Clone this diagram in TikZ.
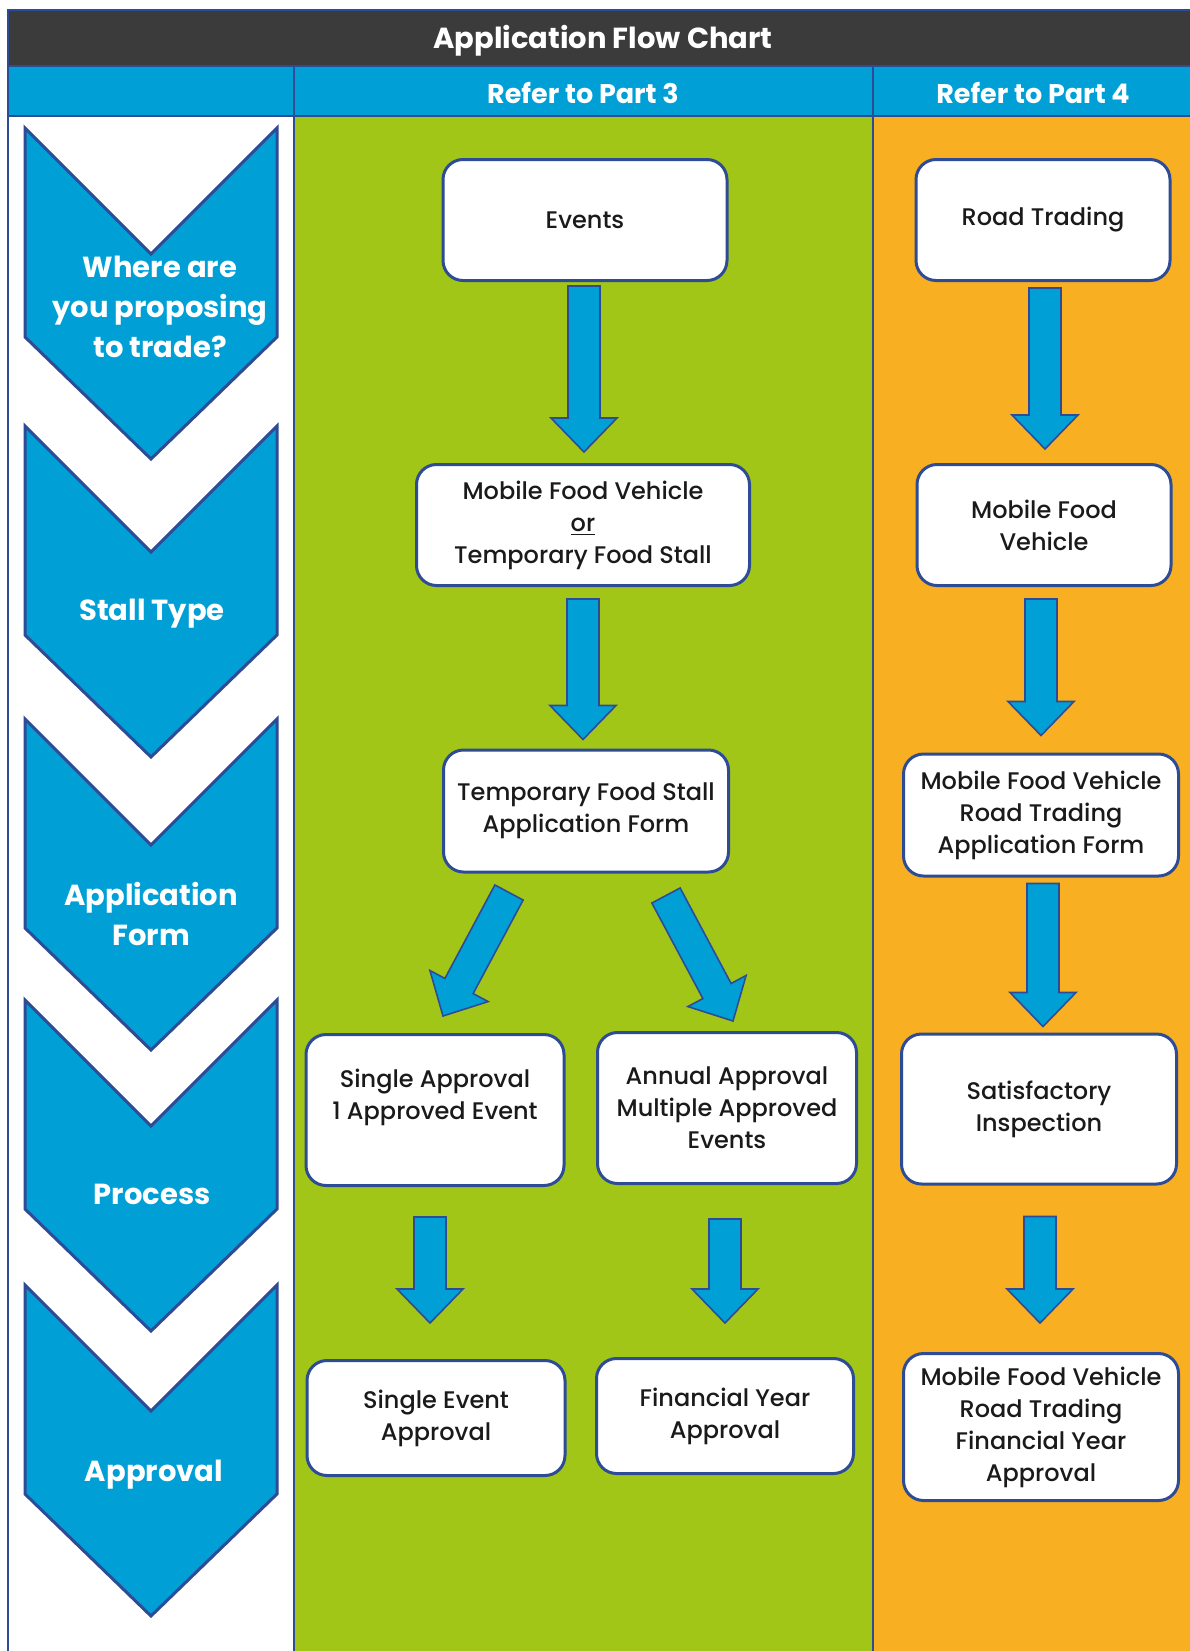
\documentclass[tikz,border=0pt]{standalone}
\usepackage{fontspec}
\setmainfont{Poppins}
\newfontfamily\stagefont{Poppins Medium}
\usetikzlibrary{calc}
\definecolor{hdrdark}{HTML}{3B3B3B}
\definecolor{chartblue}{HTML}{00A0D6}
\definecolor{linkblue}{HTML}{2E4C96}
\definecolor{partgreen}{HTML}{A2C617}
\definecolor{partorange}{HTML}{F8AF22}
\definecolor{boxtext}{HTML}{1A1A1A}
\tikzset{
  stage/.style={rounded corners=10pt, draw=linkblue, line width=1.5pt, fill=white, align=center,
    text=boxtext, font=\stagefont\fontsize{12}{16}\selectfont, inner sep=0pt},
  boxsize/.style 2 args={minimum width=#1*0.5pt, minimum height=#2*0.5pt},
  chevron/.style={fill=chartblue, draw=linkblue, line width=1.5pt, line join=miter},
  steplabel/.style={text=white, align=center, font=\bfseries\fontsize{14.5}{20}\selectfont},
  headtext/.style={text=white, font=\bfseries\fontsize{13.5}{16}\selectfont},
  flowarrow/.style={fill=chartblue, draw=linkblue, line width=0.8pt, line join=miter},
  rule/.style={draw=linkblue, line width=1.2pt}
}
\newcommand\blockarrow[2]{%
  \coordinate (ba-a) at ($#1$);
  \coordinate (ba-b) at ($#2$);
  \coordinate (ba-h) at ($(ba-b)!17pt!(ba-a)$);
  \draw[flowarrow] ($(ba-a)!8pt!90:(ba-b)$) -- ($(ba-h)!8pt!90:(ba-b)$) -- ($(ba-h)!16.5pt!90:(ba-b)$)
    -- (ba-b) -- ($(ba-h)!16.5pt!-90:(ba-b)$) -- ($(ba-h)!8pt!-90:(ba-b)$) -- ($(ba-a)!8pt!-90:(ba-b)$) -- cycle;
}
\begin{document}
\begin{tikzpicture}[x=0.5pt,y=-0.5pt]
  \useasboundingbox (0,0) rectangle (1190,1651);
  \fill[hdrdark] (8,10) rectangle (1190,66);
  \fill[chartblue] (8,66) rectangle (1190,116);
  \fill[white] (8,116) rectangle (294,1651);
  \fill[partgreen] (294,116) rectangle (873,1651);
  \fill[partorange] (873,116) rectangle (1190,1651);
  \draw[rule] (1190,10) -- (8,10) -- (8,1651);
  \draw[rule] (8,66) -- (1190,66);
  \draw[rule] (8,116) -- (1190,116);
  \draw[rule] (294,66) -- (294,1651);
  \draw[rule] (873,66) -- (873,1651);
  \node[headtext, font=\bfseries\fontsize{14.5}{16}\selectfont] (title) at (603,41) {Application Flow Chart};
  \node[headtext] (part3) at (583,93) {Refer to Part 3};
  \node[headtext] (part4) at (1033,93) {Refer to Part 4};

  \foreach \top/\lx/\ly/\sid/\lab in {128/160/307/where/{Where are\\you proposing\\to trade?},
      426/152/614/stall/{Stall Type}, 719/151/914/form/{Application\\Form},
      1000/152/1194/process/Process, 1285/154/1475/approval/Approval} {
    \draw[chevron] (25,\top) -- (151,\top+126) -- (277,\top) -- (277,\top+209)
      -- (151,\top+331) -- (25,\top+209) -- cycle;
    \node[steplabel] (\sid) at (\lx,\ly) {\lab};
  }

  \node[stage, boxsize={284}{121}] (events) at (585,220) {Events};
  \node[stage, boxsize={333}{121}] (vehiclestall) at (583,525) {Mobile Food Vehicle\\\underline{or}\\Temporary Food Stall};
  \node[stage, boxsize={285}{122}] (stallform) at (586,811) {Temporary Food Stall\\Application Form};
  \node[stage, boxsize={258}{151}] (single) at (435,1110) {Single Approval\\1 Approved Event\\~};
  \node[stage, boxsize={259}{151}] (annual) at (727,1108) {Annual Approval\\Multiple Approved\\Events};
  \node[stage, boxsize={258}{115}] (singleok) at (436,1418) {Single Event\\Approval};
  \node[stage, boxsize={257}{115}] (yearok) at (725,1416) {Financial Year\\Approval};
  \node[stage, boxsize={254}{121}] (road) at (1043,220) {Road Trading};
  \node[stage, boxsize={254}{121}] (vehicle) at (1044,525) {Mobile Food\\Vehicle};
  \node[stage, boxsize={275}{122}] (roadform) at (1041,815) {Mobile Food Vehicle\\Road Trading\\Application Form};
  \node[stage, boxsize={275}{150}] (inspect) at (1039,1109) {Satisfactory\\Inspection};
  \node[stage, boxsize={275}{147}] (roadok) at (1041,1427) {Mobile Food Vehicle\\Road Trading\\Financial Year\\Approval};

  \blockarrow{(events.south)+(-1,4)}{(vehiclestall.north)+(1,-11)}
  \blockarrow{(vehiclestall.south)+(0,12)}{(stallform.north)+(-3,-9)}
  \blockarrow{(stallform.south)+(-77,19)}{(single.north)+(8,-17)}
  \blockarrow{(stallform.south)+(80,22)}{(annual.north)+(6,-10)}
  \blockarrow{(single.south)+(-5,30)}{(singleok.north)+(-6,-36)}
  \blockarrow{(annual.south)+(-2,34)}{(yearok.north)+(0,-34)}
  \blockarrow{(road.south)+(2,6)}{(vehicle.north)+(1,-14)}
  \blockarrow{(vehicle.south)+(-3,12)}{(roadform.north)+(0,-17)}
  \blockarrow{(roadform.south)+(2,6)}{(inspect.north)+(4,-6)}
  \blockarrow{(inspect.south)+(1,31)}{(roadok.north)+(-1,-29)}
\end{tikzpicture}
\end{document}
